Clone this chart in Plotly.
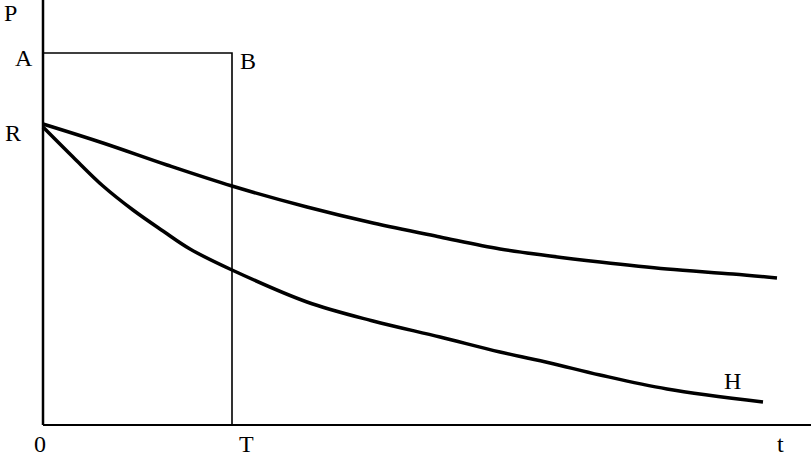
import plotly.graph_objects as go

# Axis extents (arbitrary units, origin at 0)
T_END = 189          # time T (end of rectangle)
P_A = 372            # level A / B
X_MAX = 768
Y_MAX = 425

# Upper curve (from R)
upper_t = [0, 60, 124, 189, 264, 330, 397, 457, 507, 557, 624, 690, 734]
upper_p = [301, 282, 260, 239, 218, 202, 188, 176, 169, 163, 156, 151, 147]

# Lower curve H (from R)
lower_t = [0, 30, 60, 90, 120, 147, 189, 264, 330, 397, 457, 507, 557, 624, 720]
lower_p = [298, 268, 239, 215, 194, 176, 155, 123, 104, 88, 73, 62, 50, 36, 23]

labels = [
    ("P", -33, 412),
    ("A", -19, 367),
    ("B", 205, 364),
    ("R", -30, 292),
    ("0", -3, -19),
    ("T", 203, -19),
    ("t", 737, -19),
    ("H", 689, 44),
]

FONT = "Liberation Serif, DejaVu Serif, serif"

fig = go.Figure()
# axes
fig.add_trace(go.Scatter(x=[0, 0], y=[Y_MAX, 0], mode="lines",
                         line=dict(color="black", width=2.5), cliponaxis=False))
fig.add_trace(go.Scatter(x=[0, X_MAX], y=[0, 0], mode="lines",
                         line=dict(color="black", width=2), cliponaxis=False))
# rectangle A-B-T
fig.add_trace(go.Scatter(x=[0, T_END, T_END], y=[P_A, P_A, 0], mode="lines",
                         line=dict(color="black", width=1.6), cliponaxis=False))
# curves
fig.add_trace(go.Scatter(x=upper_t, y=upper_p, mode="lines",
                         line=dict(color="black", width=3.5, shape="spline", smoothing=1),
                         cliponaxis=False))
fig.add_trace(go.Scatter(x=lower_t, y=lower_p, mode="lines",
                         line=dict(color="black", width=3.5, shape="spline", smoothing=1),
                         cliponaxis=False))

for txt, x, y in labels:
    fig.add_annotation(x=x, y=y, xref="x", yref="y", text=txt, showarrow=False,
                       font=dict(family=FONT, size=24, color="black"))

fig.update_layout(
    width=811, height=458,
    margin=dict(l=0, r=0, t=0, b=0, pad=0),
    paper_bgcolor="white", plot_bgcolor="white",
    showlegend=False,
    xaxis=dict(range=[-43, X_MAX], showgrid=False, zeroline=False, showticklabels=False,
               ticks="", showline=False, fixedrange=True),
    yaxis=dict(range=[-33, Y_MAX], showgrid=False, zeroline=False, showticklabels=False,
               ticks="", showline=False, fixedrange=True),
)

fig.write_html("out.html", config={"displayModeBar": False},
               post_script="document.body.style.margin='0';document.body.style.overflow='hidden';")
